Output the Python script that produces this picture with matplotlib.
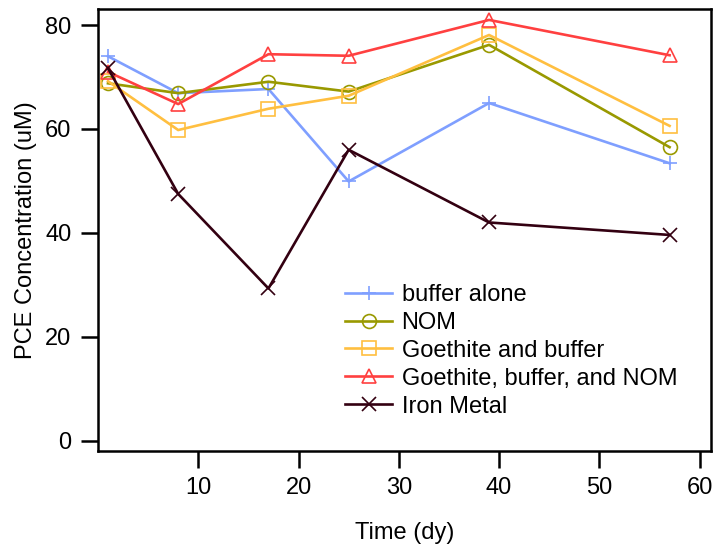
import matplotlib
matplotlib.use("Agg")
import matplotlib.pyplot as plt

plt.rcParams['font.family'] = ['Liberation Sans', 'DejaVu Sans']

# sampling days
days = [1, 8, 17, 25, 39, 57]

# PCE concentration (uM) for each treatment
buffer_alone = [74.0, 66.9, 67.7, 49.9, 65.0, 53.4]
nom = [68.8, 66.9, 69.1, 67.2, 76.2, 56.5]
goethite_buffer = [69.2, 59.8, 63.9, 66.4, 78.1, 60.6]
goethite_buffer_nom = [71.0, 64.8, 74.4, 74.1, 81.0, 74.2]
iron_metal = [71.7, 47.5, 29.3, 56.0, 42.0, 39.6]

series = [
    ("buffer alone", buffer_alone, "#7f9fff", "+"),
    ("NOM", nom, "#999900", "o"),
    ("Goethite and buffer", goethite_buffer, "#ffbf40", "s"),
    ("Goethite, buffer, and NOM", goethite_buffer_nom, "#ff4040", "^"),
    ("Iron Metal", iron_metal, "#330011", "x"),
]

fs = 17
fig = plt.figure(figsize=(7.15, 5.47), dpi=100)
ax = fig.add_axes([0.137, 0.1755, 0.857, 0.808])

for label, vals, color, mk in series:
    ax.plot(days, vals, color=color, lw=1.9, marker=mk, markersize=10,
            markerfacecolor="none", markeredgecolor=color, markeredgewidth=1.2,
            label=label)

ax.set_xlim(0, 61.1)
ax.set_ylim(-2, 83.1)
ax.set_xticks([10, 20, 30, 40, 50, 60])
ax.set_yticks([0, 20, 40, 60, 80])
ax.tick_params(direction="out", length=12, width=1.8, labelsize=fs, pad=7)
for s in ax.spines.values():
    s.set_linewidth(1.8)

ax.set_xlabel("Time (dy)", fontsize=fs, labelpad=16)
ax.set_ylabel("PCE Concentration (uM)", fontsize=fs, labelpad=6)

ax.legend(loc="upper left", bbox_to_anchor=(0.403, 0.378), frameon=False,
          fontsize=fs, numpoints=1, borderpad=0, borderaxespad=0,
          handlelength=2.0, handletextpad=0.4, labelspacing=0.25)

fig.savefig("out.png", dpi=100)
